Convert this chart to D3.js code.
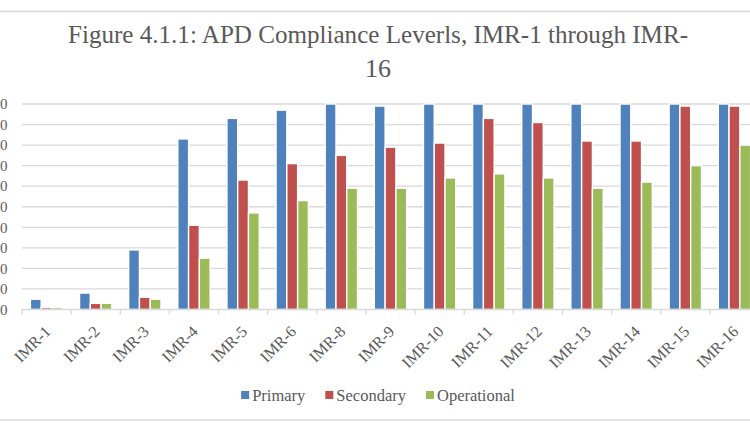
<!DOCTYPE html>
<html>
<head>
<meta charset="utf-8">
<script src="https://cdn.jsdelivr.net/npm/d3@7"></script>
<style>
    html, body { margin: 0; padding: 0; background: #fff; overflow: hidden; }
    svg { display: block; }
</style>
</head>
<body>
<div id="chart"></div>
<script>
// Chart data
const categories = ["IMR-1", "IMR-2", "IMR-3", "IMR-4", "IMR-5", "IMR-6", "IMR-8", "IMR-9",
    "IMR-10", "IMR-11", "IMR-12", "IMR-13", "IMR-14", "IMR-15", "IMR-16"];
const seriesNames = ["Primary", "Secondary", "Operational"];
const primary     = [5, 8, 29, 83, 93, 97, 100, 99, 100, 100, 100, 100, 100, 100, 100];
const secondary   = [1, 3, 6, 41, 63, 71, 75, 79, 81, 93, 91, 82, 82, 99, 99];
const operational = [1, 3, 5, 25, 47, 53, 59, 59, 64, 66, 64, 59, 62, 70, 80];
const yTicks = [0, 10, 20, 30, 40, 50, 60, 70, 80, 90, 100];
const colors = ["#4F81BD", "#C0504D", "#9BBB59"];

const titleLines = ["Figure 4.1.1: APD Compliance Leverls, IMR-1 through IMR-", "16"];

const width = 750;
const height = 430;
const font = "'Liberation Serif', 'Times New Roman', serif";
const textColor = "#595959";

const svg = d3.select("#chart")
    .append("svg")
    .attr("width", width)
    .attr("height", height);

// chart frame (mostly cropped off at the sides)
svg.append("rect")
    .attr("x", -5)
    .attr("y", 11.5)
    .attr("width", width + 10)
    .attr("height", 408.5)
    .attr("fill", "none")
    .attr("stroke", "#d9d9d9")
    .attr("stroke-width", 1.5);

// plot area
const plot = { left: 22, right: 759, top: 104, bottom: 309.5 };

const x = d3.scaleBand()
    .domain(categories)
    .range([plot.left, plot.right])
    .paddingInner(0)
    .paddingOuter(0);

const xInner = d3.scaleBand()
    .domain(seriesNames)
    .range([0, x.bandwidth()])
    .paddingInner(0)
    .paddingOuter(0.78);

const y = d3.scaleLinear()
    .domain([0, 100])
    .range([plot.bottom, plot.top]);

// gridlines
svg.append("g")
    .selectAll("line")
    .data(yTicks.filter(d => d > 0))
    .join("line")
    .attr("x1", plot.left)
    .attr("x2", plot.right)
    .attr("y1", d => y(d))
    .attr("y2", d => y(d))
    .attr("stroke", "#d9d9d9")
    .attr("stroke-width", 1.3);

// y labels (cut off by the left edge like the original)
svg.append("g")
    .selectAll("text")
    .data(yTicks)
    .join("text")
    .attr("x", 7.5)
    .attr("y", d => y(d))
    .attr("dy", "0.35em")
    .attr("text-anchor", "end")
    .attr("font-family", font)
    .attr("font-size", 15)
    .attr("fill", textColor)
    .text(d => d);

// bars
const seriesData = [primary, secondary, operational];
const groups = svg.append("g")
    .selectAll("g")
    .data(seriesData)
    .join("g")
    .attr("fill", (_, i) => colors[i]);

groups.selectAll("rect")
    .data((values, si) => values.map((v, ci) => ({ cat: categories[ci], s: seriesNames[si], v: v })))
    .join("rect")
    .attr("x", d => x(d.cat) + xInner(d.s))
    .attr("width", xInner.bandwidth())
    .attr("y", d => y(d.v))
    .attr("height", d => y(0) - y(d.v))
    .attr("stroke", "#fff")
    .attr("stroke-width", 1.4);

// x axis
const xAxis = svg.append("g")
    .attr("transform", `translate(0,${plot.bottom})`);

xAxis.append("line")
    .attr("x1", plot.left)
    .attr("x2", plot.right)
    .attr("stroke", "#d9d9d9")
    .attr("stroke-width", 1.3);

xAxis.selectAll(".tick")
    .data(categories)
    .join("line")
    .attr("class", "tick")
    .attr("x1", d => x(d))
    .attr("x2", d => x(d))
    .attr("y1", 0)
    .attr("y2", 5)
    .attr("stroke", "#d9d9d9")
    .attr("stroke-width", 1.3);

xAxis.selectAll(".label")
    .data(categories)
    .join("text")
    .attr("class", "label")
    .attr("text-anchor", "end")
    .attr("font-family", font)
    .attr("font-size", 16)
    .attr("fill", textColor)
    .attr("transform", d => `translate(${x(d) + x.bandwidth() / 2 + 5},${23}) rotate(-45)`)
    .text(d => d);

// title
const title = svg.append("text")
    .attr("text-anchor", "middle")
    .attr("font-family", font)
    .attr("font-size", 26)
    .attr("fill", textColor);

title.selectAll("tspan")
    .data(titleLines)
    .join("tspan")
    .attr("x", 378)
    .attr("y", (_, i) => 43 + i * 34)
    .text(d => d);

// squeeze the long first line to the width seen in the reference
title.select("tspan")
    .attr("textLength", 620)
    .attr("lengthAdjust", "spacingAndGlyphs");

// legend
const legend = svg.append("g");
let lx = 0;
seriesNames.forEach((name, i) => {
    const item = legend.append("g").attr("transform", `translate(${lx},0)`);
    item.append("rect")
        .attr("x", 0)
        .attr("y", -4)
        .attr("width", 8)
        .attr("height", 8)
        .attr("fill", colors[i]);
    const t = item.append("text")
        .attr("x", 11)
        .attr("dy", "0.35em")
        .attr("font-family", font)
        .attr("font-size", 16.5)
        .attr("fill", textColor)
        .text(name);
    lx += 11 + t.node().getComputedTextLength() + 20;
});
const legendWidth = lx - 20;
legend.attr("transform", `translate(${378 - legendWidth / 2},395)`);
</script>
</body>
</html>
